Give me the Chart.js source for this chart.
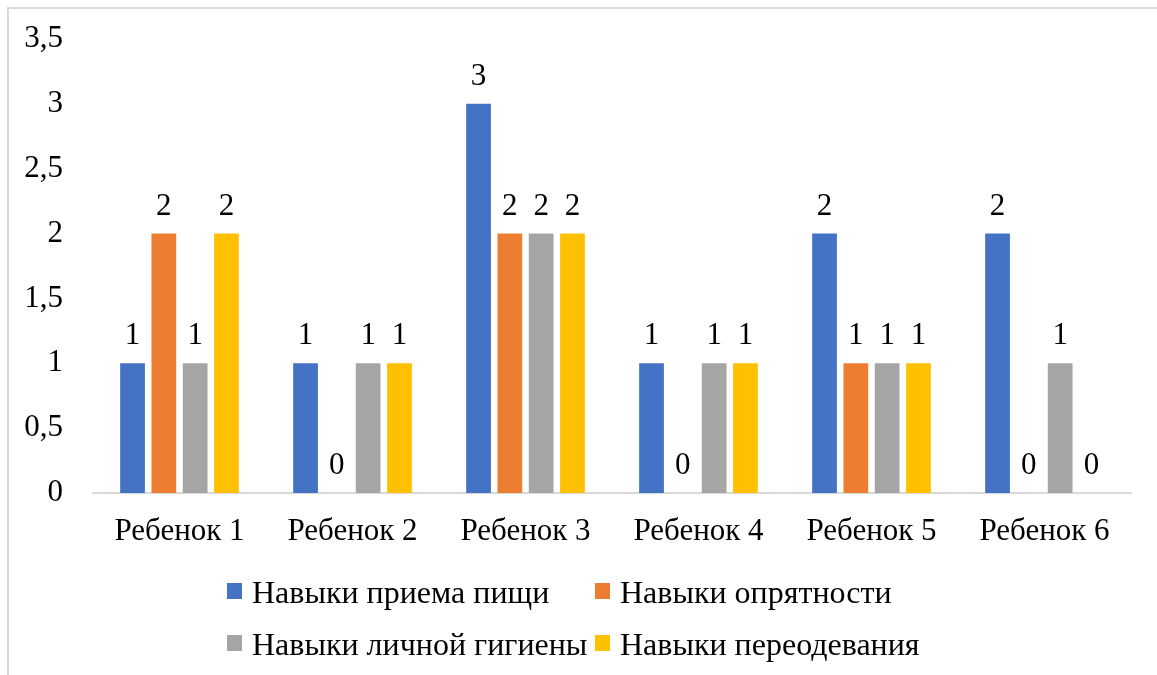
<!DOCTYPE html>
<html>
<head>
<meta charset="utf-8">
<script src="https://cdn.jsdelivr.net/npm/chart.js@4/dist/chart.umd.min.js"></script>
<style>
  html, body { margin: 0; padding: 0; background: #fff; overflow: hidden; }
  #wrap { position: relative; width: 1157px; height: 675px; }
  #wrap canvas { position: absolute; left: 0; top: 0; }
  #frame {
    position: absolute; left: 7px; top: 7px; width: 1200px; height: 720px;
    border-left: 2px solid #d9d9d9; border-top: 2px solid #d9d9d9;
    pointer-events: none;
  }
</style>
</head>
<body>
<div id="wrap">
  <canvas id="chart" width="1157" height="675"></canvas>
  <div id="frame"></div>
</div>
<script>
// Categories and series
const categories = ['Ребенок 1', 'Ребенок 2', 'Ребенок 3', 'Ребенок 4', 'Ребенок 5', 'Ребенок 6'];
const seriesNames = ['Навыки приема пищи', 'Навыки опрятности', 'Навыки личной гигиены', 'Навыки переодевания'];
const eatingSkills   = [1, 1, 3, 1, 2, 2];
const neatnessSkills = [2, 0, 2, 0, 1, 0];
const hygieneSkills  = [1, 1, 2, 1, 1, 1];
const dressingSkills = [2, 1, 2, 1, 1, 0];
const yTickValues = [0, 0.5, 1, 1.5, 2, 2.5, 3, 3.5];

const seriesColors = ['#4472C4', '#ED7D31', '#A5A5A5', '#FFC000'];
const seriesValues = [eatingSkills, neatnessSkills, hygieneSkills, dressingSkills];

const SERIF = '"Liberation Serif", "Times New Roman", serif';
const AXIS_FONT = { family: SERIF, size: 31 };

// Value labels above each bar
const valueLabels = {
  id: 'valueLabels',
  afterDatasetsDraw(chart) {
    const ctx = chart.ctx;
    ctx.save();
    ctx.font = `${AXIS_FONT.size}px ${SERIF}`;
    ctx.fillStyle = '#000';
    ctx.textAlign = 'center';
    ctx.textBaseline = 'alphabetic';
    chart.data.datasets.forEach((ds, i) => {
      const meta = chart.getDatasetMeta(i);
      meta.data.forEach((bar, j) => {
        ctx.fillText(String(ds.data[j]), bar.x, bar.y - 19);
      });
    });
    ctx.restore();
  }
};

// Two-column legend under the axis
const gridLegend = {
  id: 'gridLegend',
  afterDraw(chart, args, opts) {
    const ctx = chart.ctx;
    ctx.save();
    ctx.font = `${opts.fontSize}px ${SERIF}`;
    ctx.textBaseline = 'alphabetic';
    ctx.textAlign = 'left';
    chart.data.datasets.forEach((ds, i) => {
      const col = i % 2, row = Math.floor(i / 2);
      const x = opts.columns[col];
      const y = opts.rows[row];
      ctx.fillStyle = ds.backgroundColor;
      ctx.fillRect(x, y - opts.boxH / 2, opts.boxW, opts.boxH);
      ctx.fillStyle = '#000';
      ctx.fillText(ds.label, x + opts.textGap, y + opts.baselineShift);
    });
    ctx.restore();
  }
};

new Chart(document.getElementById('chart'), {
  type: 'bar',
  data: {
    labels: categories,
    datasets: seriesNames.map((name, i) => ({
      label: name,
      data: seriesValues[i],
      backgroundColor: seriesColors[i],
      categoryPercentage: 0.724,
      barPercentage: 0.79
    }))
  },
  options: {
    responsive: false,
    animation: false,
    devicePixelRatio: 1,
    layout: { padding: { left: 24, top: 39, right: 26, bottom: 122 } },
    plugins: {
      legend: { display: false },
      tooltip: { enabled: false },
      gridLegend: {
        columns: [227, 595], rows: [591, 643], boxW: 15, boxH: 16,
        textGap: 25, fontSize: 32, baselineShift: 12
      }
    },
    scales: {
      x: {
        grid: { display: false, drawTicks: false },
        border: { display: true, color: '#d9d9d9', width: 2 },
        ticks: { font: AXIS_FONT, color: '#000', padding: 20, maxRotation: 0 },
        afterFit(scale) { scale.height = 60; }
      },
      y: {
        min: 0,
        max: 3.5,
        grid: { display: false, drawTicks: false },
        border: { display: false },
        afterBuildTicks(scale) { scale.ticks = yTickValues.map(v => ({ value: v })); },
        ticks: {
          font: AXIS_FONT,
          color: '#000',
          padding: 30,
          callback: v => String(v).replace('.', ',')
        },
        afterFit(scale) {
          scale.width = 69;
          scale.paddingTop = 0;
          scale.paddingBottom = 0;
        }
      }
    }
  },
  plugins: [valueLabels, gridLegend]
});
</script>
</body>
</html>
